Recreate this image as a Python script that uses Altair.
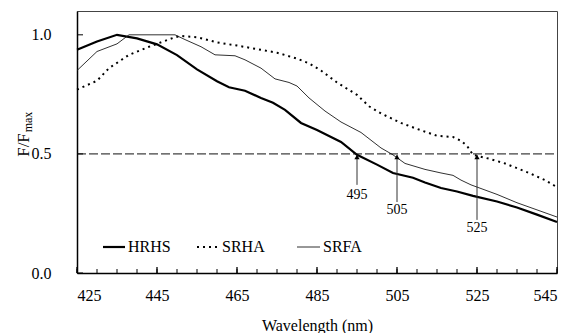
import altair as alt
import pandas as pd

# ---- data ----
hrhs_wl = [425, 430, 435, 440, 445, 450, 455, 460, 463, 467, 471, 474, 477, 481, 485, 488, 491, 495, 500, 504, 509, 512, 516, 520, 524, 530, 535, 540, 545]
hrhs_v = [0.937, 0.972, 1.0, 0.985, 0.96, 0.915, 0.855, 0.805, 0.78, 0.765, 0.735, 0.715, 0.685, 0.63, 0.6, 0.575, 0.55, 0.496, 0.455, 0.42, 0.40, 0.38, 0.357, 0.342, 0.324, 0.30, 0.275, 0.245, 0.214]

srha_wl = [425, 430, 433, 438, 443, 449.5, 451, 455, 460, 465, 470, 475, 480, 483, 486, 490, 495, 498, 501, 506, 510, 515, 519, 521, 522.5, 524, 528, 532, 538, 542, 545]
srha_v = [0.77, 0.807, 0.86, 0.916, 0.95, 0.99, 0.995, 0.99, 0.968, 0.955, 0.94, 0.925, 0.9, 0.88, 0.85, 0.80, 0.748, 0.70, 0.67, 0.63, 0.605, 0.576, 0.571, 0.555, 0.534, 0.496, 0.48, 0.46, 0.42, 0.39, 0.36]

srfa_wl = [425, 430, 435, 438, 444, 449.5, 452, 456, 459.5, 464.5, 467, 471, 474.5, 478, 480, 483, 487, 491, 496, 501, 504, 507, 512, 516, 519, 521, 523.5, 530, 535, 540, 545]
srfa_v = [0.85, 0.93, 0.962, 1.0, 1.0, 1.0, 0.98, 0.95, 0.916, 0.912, 0.895, 0.86, 0.815, 0.80, 0.785, 0.735, 0.68, 0.634, 0.59, 0.525, 0.496, 0.46, 0.435, 0.42, 0.41, 0.39, 0.37, 0.33, 0.295, 0.265, 0.235]

half_level = [0.5]
arrow_wl = [495, 505, 525]
arrow_labels = ["495", "505", "525"]
arrow_bottom = [0.37, 0.298, 0.223]
arrow_label_y = [0.328, 0.265, 0.19]

x_major = [425, 445, 465, 485, 505, 525, 545]
x_minor = list(range(425, 546, 5))
y_ticks = [0.0, 0.5, 1.0]

series_names = ["HRHS", "SRHA", "SRFA"]

FONT = "Liberation Serif"
W, H = 480, 262

xs = alt.Scale(domain=[425, 545], nice=False)
ys = alt.Scale(domain=[0, 1.1], nice=False)

def line_df(wl, v):
    return pd.DataFrame({"wl": wl, "v": v})

xenc = alt.X("wl:Q", scale=xs,
             axis=alt.Axis(values=x_major, ticks=False, grid=False, labelFont=FONT,
                           labelFontSize=16, labelPadding=14, labelColor="black",
                           domainColor="black", domainWidth=1.5,
                           title="Wavelength (nm)", titleFont=FONT, titleFontSize=16,
                           titleFontWeight="normal", titlePadding=14, titleColor="black"))
yenc = alt.Y("v:Q", scale=ys,
             axis=alt.Axis(values=y_ticks, format=".1f", ticks=False, grid=False,
                           labelFont=FONT, labelFontSize=16, labelPadding=26,
                           labelColor="black", domainColor="black", domainWidth=1.5,
                           title=None))

hrhs = alt.Chart(line_df(hrhs_wl, hrhs_v)).mark_line(color="black", strokeWidth=2.2).encode(x=xenc, y=yenc)
srha = alt.Chart(line_df(srha_wl, srha_v)).mark_line(color="black", strokeWidth=2, strokeDash=[2, 4]).encode(
    x=alt.X("wl:Q", scale=xs), y=alt.Y("v:Q", scale=ys))
srfa = alt.Chart(line_df(srfa_wl, srfa_v)).mark_line(color="#1a1a1a", strokeWidth=0.9).encode(
    x=alt.X("wl:Q", scale=xs), y=alt.Y("v:Q", scale=ys))

half = alt.Chart(pd.DataFrame({"v": half_level})).mark_rule(color="#111111", strokeWidth=1, strokeDash=[9, 3]).encode(
    y=alt.Y("v:Q", scale=ys), x=alt.value(0), x2=alt.value(W))

arr_df = pd.DataFrame({"wl": arrow_wl, "lab": arrow_labels, "b": arrow_bottom, "t": [0.495] * 3,
                       "ly": arrow_label_y, "head": [0.487] * 3})
arr_lines = alt.Chart(arr_df).mark_rule(color="#333333", strokeWidth=1).encode(
    x=alt.X("wl:Q", scale=xs), y=alt.Y("b:Q", scale=ys), y2="t:Q")
arr_heads = alt.Chart(arr_df).mark_point(shape="triangle-up", filled=True, color="black", size=28, opacity=1).encode(
    x=alt.X("wl:Q", scale=xs), y=alt.Y("head:Q", scale=ys))
arr_text = alt.Chart(arr_df).mark_text(font=FONT, fontSize=14, color="black", baseline="middle").encode(
    x=alt.X("wl:Q", scale=xs), y=alt.Y("ly:Q", scale=ys), text="lab:N")

# inward ticks
xt_df = pd.DataFrame({"wl": x_minor})
xticks_minor = alt.Chart(xt_df).mark_rule(color="black", strokeWidth=1).encode(
    x=alt.X("wl:Q", scale=xs), y=alt.value(H), y2=alt.value(H - 4))
xticks_major = alt.Chart(pd.DataFrame({"wl": x_major})).mark_rule(color="black", strokeWidth=1.3).encode(
    x=alt.X("wl:Q", scale=xs), y=alt.value(H), y2=alt.value(H - 6))
yticks = alt.Chart(pd.DataFrame({"v": y_ticks})).mark_rule(color="black", strokeWidth=1).encode(
    y=alt.Y("v:Q", scale=ys), x=alt.value(0), x2=alt.value(6))

# manual legend
leg_y = 236
leg_df = pd.DataFrame({"name": series_names, "x0": [26, 120, 220], "x1": [48, 143, 243], "tx": [51, 145, 246]})
leg_hrhs = alt.Chart(leg_df.iloc[[0]]).mark_rule(color="black", strokeWidth=2.2).encode(
    x=alt.X("x0:Q", scale=None), x2="x1:Q", y=alt.value(leg_y))
leg_srha = alt.Chart(leg_df.iloc[[1]]).mark_rule(color="black", strokeWidth=2, strokeDash=[2, 4]).encode(
    x=alt.X("x0:Q", scale=None), x2="x1:Q", y=alt.value(leg_y))
leg_srfa = alt.Chart(leg_df.iloc[[2]]).mark_rule(color="#1a1a1a", strokeWidth=0.9).encode(
    x=alt.X("x0:Q", scale=None), x2="x1:Q", y=alt.value(leg_y))
leg_text = alt.Chart(leg_df).mark_text(font=FONT, fontSize=16, color="black", align="left", baseline="middle").encode(
    x=alt.X("tx:Q", scale=None), y=alt.value(leg_y), text="name:N")

# y-axis title F/F_max
ytitle = alt.Chart(pd.DataFrame({"t": ["F/F"]})).mark_text(font=FONT, fontSize=17, angle=270, color="black",
                                                           baseline="middle", align="center").encode(
    x=alt.value(-53), y=alt.value(134), text="t:N")
ysub = alt.Chart(pd.DataFrame({"t": ["max"]})).mark_text(font=FONT, fontSize=12, angle=270, color="black",
                                                         baseline="middle", align="center").encode(
    x=alt.value(-49), y=alt.value(111), text="t:N")

chart = alt.layer(hrhs, srha, srfa, half, arr_lines, arr_heads, arr_text,
                  xticks_minor, xticks_major, yticks,
                  leg_hrhs, leg_srha, leg_srfa, leg_text, ytitle, ysub).properties(
    width=W, height=H,
    autosize=alt.AutoSizeParams(type="none"),
    padding={"left": 69, "top": 3, "right": 5, "bottom": 60},
    background="white",
).configure_view(stroke="#444444", strokeWidth=1)

chart.save("out.html", embed_options={"renderer": "svg", "actions": False})
